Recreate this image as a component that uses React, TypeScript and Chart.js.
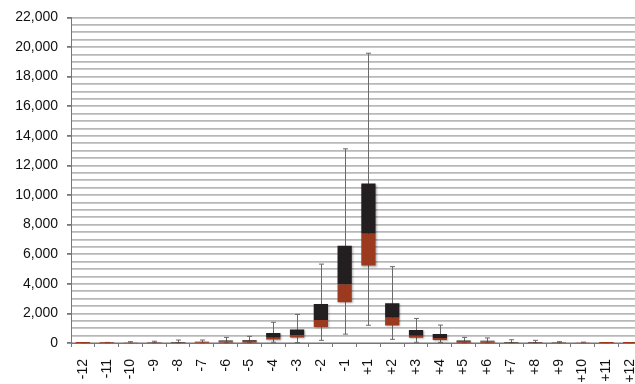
import React, { useEffect, useRef } from "react";
import { Chart, registerables } from "chart.js";

Chart.register(...registerables);

const categories = [
  "-12", "-11", "-10", "-9", "-8", "-7", "-6", "-5", "-4", "-3", "-2", "-1",
  "+1", "+2", "+3", "+4", "+5", "+6", "+7", "+8", "+9", "+10", "+11", "+12",
];
const minValues = [0, 0, 0, 0, 0, 0, 0, 10, 50, 30, 180, 600, 1200, 250, 50, 40, 0, 0, 0, 0, 0, 0, 0, 0];
const q1Values = [0, 0, 5, 5, 10, 15, 30, 40, 230, 380, 1080, 2760, 5230, 1190, 360, 200, 25, 20, 10, 10, 5, 5, 0, 0];
const medianValues = [5, 10, 15, 20, 35, 70, 120, 160, 360, 540, 1550, 3950, 7380, 1700, 490, 340, 130, 120, 40, 35, 15, 10, 5, 5];
const q3Values = [10, 15, 25, 40, 70, 90, 170, 210, 670, 920, 2640, 6570, 10770, 2690, 875, 605, 170, 160, 70, 60, 30, 20, 15, 10];
const maxValues = [20, 40, 90, 120, 200, 200, 380, 450, 1400, 1930, 5330, 13120, 19580, 5160, 1660, 1210, 380, 340, 220, 180, 90, 60, 30, 20];
const yTickLabelStep = 2000;

const whiskerPlugin = {
  id: "whiskers",
  beforeDatasetsDraw(chart: any) {
    const { ctx, scales } = chart;
    const xs = scales.x;
    const ys = scales.y;
    ctx.save();
    ctx.strokeStyle = "#6a6a6a";
    ctx.lineWidth = 1;
    for (let i = 0; i < categories.length; i++) {
      const x = Math.round(xs.getPixelForValue(i)) + 0.5;
      const yTop = ys.getPixelForValue(maxValues[i]);
      const yBot = ys.getPixelForValue(minValues[i]);
      ctx.beginPath();
      ctx.moveTo(x, yTop);
      ctx.lineTo(x, yBot);
      ctx.moveTo(x - 2.5, yTop);
      ctx.lineTo(x + 2.5, yTop);
      ctx.moveTo(x - 2.5, yBot);
      ctx.lineTo(x + 2.5, yBot);
      ctx.stroke();
    }
    ctx.restore();
  },
  beforeDatasetDraw(chart: any) {
    const ctx = chart.ctx;
    ctx.save();
    ctx.shadowColor = "rgba(0,0,0,0.3)";
    ctx.shadowOffsetX = 1;
    ctx.shadowOffsetY = 1;
    ctx.shadowBlur = 2;
  },
  afterDatasetDraw(chart: any) {
    chart.ctx.restore();
  },
};

export default function App() {
  const canvasRef = useRef<HTMLCanvasElement | null>(null);

  useEffect(() => {
    if (!canvasRef.current) return;
    const chart = new Chart(canvasRef.current, {
      type: "bar",
      data: {
        labels: categories,
        datasets: [
          {
            label: "Q1-Median",
            data: q1Values.map((q, i) => [q, medianValues[i]]),
            backgroundColor: "#9b3a1e",
            borderWidth: 0,
            grouped: false,
            barPercentage: 0.6,
            categoryPercentage: 1,
          } as any,
          {
            label: "Median-Q3",
            data: medianValues.map((m, i) => [m, q3Values[i]]),
            backgroundColor: "#231f20",
            borderWidth: 0,
            grouped: false,
            barPercentage: 0.6,
            categoryPercentage: 1,
          } as any,
        ],
      },
      options: {
        animation: false,
        responsive: true,
        maintainAspectRatio: false,
        layout: { padding: { top: 16, left: 0, right: 0, bottom: 0 } },
        plugins: {
          legend: { display: false },
          tooltip: { enabled: false },
        },
        scales: {
          x: {
            offset: true,
            grid: {
              drawOnChartArea: false,
              drawTicks: true,
              tickLength: 4,
              tickColor: "#777",
              offset: true,
            },
            border: { display: true, color: "#777", width: 1 },
            ticks: {
              autoSkip: false,
              minRotation: 90,
              maxRotation: 90,
              padding: 12,
              color: "#111",
              font: { family: "'Liberation Sans', Arial, sans-serif", size: 14 },
            },
            afterFit: (scale: any) => {
              scale.height = 41;
            },
          },
          y: {
            min: 0,
            max: 22000,
            ticks: {
              stepSize: 500,
              autoSkip: false,
              padding: 9,
              color: "#111",
              font: { family: "'Liberation Sans', Arial, sans-serif", size: 14 },
              callback: (v: any) =>
                Number(v) % yTickLabelStep === 0 ? Number(v).toLocaleString("en-US") : "",
            },
            grid: {
              color: "#b8b8b8",
              lineWidth: 1.8,
              tickLength: 4,
              tickColor: (ctx: any) =>
                ctx.tick && ctx.tick.value % yTickLabelStep === 0 ? "#777" : "rgba(0,0,0,0)",
            },
            border: { display: true, color: "#777", width: 1 },
            afterFit: (scale: any) => {
              scale.width = 71;
            },
          },
        },
      },
      plugins: [whiskerPlugin],
    });
    return () => chart.destroy();
  }, []);

  return (
    <div
      style={{
        position: "fixed",
        left: 0,
        top: 0,
        width: 635,
        height: 384,
        overflow: "hidden",
        background: "#fff",
      }}
    >
      <div style={{ position: "relative", width: 659, height: 384 }}>
        <canvas ref={canvasRef} />
      </div>
    </div>
  );
}
